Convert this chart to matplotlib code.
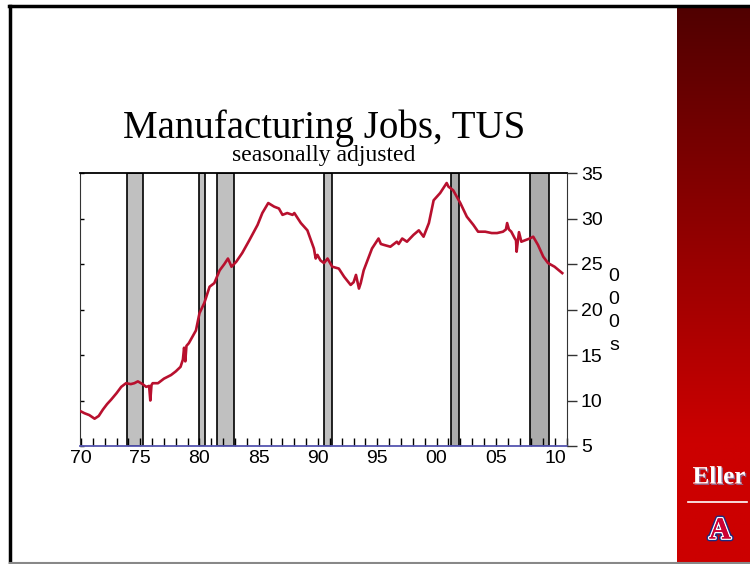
import matplotlib
matplotlib.use("Agg")
import matplotlib.pyplot as plt
import numpy as np
import matplotlib.patheffects as pe
from matplotlib.lines import Line2D

# ---------------- data ----------------
years = [1970.0, 1970.3, 1970.7, 1971.15, 1971.5, 1971.85, 1972.2, 1972.55, 1973.0,
         1973.4, 1973.8, 1974.2, 1974.5, 1974.8, 1975.2, 1975.5, 1975.75, 1975.85,
         1975.95, 1976.05, 1976.5, 1977.0, 1977.6, 1978.0, 1978.4, 1978.6, 1978.7,
         1978.8, 1978.9, 1979.1, 1979.4, 1979.7, 1980.0, 1980.4, 1980.85, 1981.25,
         1981.7, 1982.1, 1982.4, 1982.7, 1983.1, 1983.6, 1984.2, 1984.9, 1985.3,
         1985.8, 1986.3, 1986.7, 1987.0, 1987.4, 1987.85, 1988.0, 1988.55, 1989.1,
         1989.65, 1989.8, 1989.95, 1990.2, 1990.5, 1990.8, 1991.2, 1991.75, 1992.2,
         1992.75, 1993.0, 1993.2, 1993.45, 1993.6, 1993.85, 1994.55, 1995.1, 1995.3,
         1995.55, 1996.1, 1996.65, 1996.8, 1997.1, 1997.5, 1998.05, 1998.5, 1998.9,
         1999.35, 1999.75, 2000.3, 2000.85, 2001.0, 2001.4, 2002.0, 2002.55, 2003.1,
         2003.5, 2004.1, 2004.65, 2005.1, 2005.6, 2005.85, 2005.95, 2006.1, 2006.3,
         2006.6, 2006.7, 2006.75, 2006.85, 2006.95, 2007.15, 2007.85, 2008.15,
         2008.55, 2009.0, 2009.4, 2009.95, 2010.6]
jobs = [8.8, 8.6, 8.4, 8.0, 8.3, 9.0, 9.6, 10.1, 10.8,
        11.5, 11.9, 11.8, 11.9, 12.1, 11.8, 11.5, 11.6, 10.0,
        11.7, 11.9, 11.9, 12.4, 12.8, 13.2, 13.7, 14.5, 15.8,
        14.3, 16.0, 16.3, 17.0, 17.7, 19.6, 20.7, 22.5, 22.9,
        24.3, 25.0, 25.6, 24.7, 25.25, 26.2, 27.6, 29.3, 30.6,
        31.7, 31.3, 31.1, 30.4, 30.6, 30.4, 30.6, 29.5, 28.7,
        26.7, 25.6, 26.0, 25.4, 25.1, 25.6, 24.7, 24.5, 23.6,
        22.7, 23.0, 23.8, 22.3, 22.9, 24.3, 26.7, 27.8, 27.2,
        27.1, 26.9, 27.45, 27.2, 27.8, 27.45, 28.2, 28.7, 28.0,
        29.5, 32.0, 32.8, 33.9, 33.5, 33.1, 31.7, 30.2, 29.3,
        28.55, 28.55, 28.4, 28.4, 28.55, 28.8, 29.5, 28.8, 28.55,
        27.8, 27.6, 26.35, 27.5, 28.5, 27.45, 27.8, 28.0,
        27.1, 25.8, 25.1, 24.7, 24.0]

rec_start = [1973.9, 1980.0, 1981.5, 1990.5, 2001.2, 2007.9]
rec_end = [1975.2, 1980.5, 1982.9, 1991.2, 2001.9, 2009.5]
rec_fill = ["#c0c0c0", "#c0c0c0", "#c0c0c0", "#c0c0c0", "#ababab", "#ababab"]

xtick_major = [1970, 1975, 1980, 1985, 1990, 1995, 2000, 2005, 2010]
xtick_labels = ["70", "75", "80", "85", "90", "95", "00", "05", "10"]
xtick_minor = list(range(1970, 2012))
yticks = [5, 10, 15, 20, 25, 30, 35]

title = "Manufacturing Jobs, TUS"
subtitle = "seasonally adjusted"
units_label = "0\n0\n0\ns"

# ---------------- figure ----------------
W, H = 750, 564
fig = plt.figure(figsize=(7.5, 5.64), dpi=100)
fig.patch.set_facecolor("white")

def fx(x):
    return x / W

def fy(y):
    return 1 - y / H

# red sidebar with gradient
sb = fig.add_axes([fx(677), 0, fx(750) - fx(677), fy(6)])
grad = np.ones((200, 2, 3))
t = np.clip(np.linspace(0, 1, 200) / 0.78, 0, 1)[:, None]
top = np.array([0x50, 0x00, 0x00]) / 255
bot = np.array([0xcc, 0x00, 0x00]) / 255
grad[:] = (top + (bot - top) * t)[:, None, :]
sb.imshow(grad, aspect="auto", extent=[0, 1, 1, 0])
sb.set_xlim(0, 1)
sb.set_ylim(1, 0)
sb.axis("off")

# outer border lines
fig.add_artist(Line2D([fx(10), fx(10)], [fy(6), 0], color="black", lw=2.5,
                      transform=fig.transFigure))
fig.add_artist(Line2D([fx(9), 1], [fy(6), fy(6)], color="black", lw=2.5,
                      transform=fig.transFigure))
fig.add_artist(Line2D([fx(10), 1], [fy(563), fy(563)], color="#888888", lw=1.5,
                      transform=fig.transFigure))

# Eller logo
fig.text(fx(719), fy(477), "Eller", color="white", fontsize=18, fontweight="bold",
         family="Liberation Serif", ha="center", va="center",
         path_effects=[pe.withSimplePatchShadow(offset=(1, -1), shadow_rgbFace="#8080b0", alpha=0.8)])
fig.add_artist(Line2D([fx(688), fx(747)], [fy(502), fy(502)], color="white", lw=1.2,
                      transform=fig.transFigure))
fig.text(fx(720), fy(531), "A", color="#cc0033", fontsize=22, fontweight="bold",
         family="Liberation Serif", ha="center", va="center",
         path_effects=[pe.withStroke(linewidth=4, foreground="#1a2a80"),
                       pe.withStroke(linewidth=2, foreground="white"),
                       pe.Normal()])

# main axes
L, R, T, B = 80, 567, 173, 446
ax = fig.add_axes([fx(L), fy(B), fx(R) - fx(L), fy(T) - fy(B)])
ax.set_xlim(1969.92, 2011.0)
ax.set_ylim(5, 35)

for s, e, c in zip(rec_start, rec_end, rec_fill):
    ax.axvspan(s, e, facecolor=c, edgecolor="black", lw=1.2, zorder=1)

ax.plot(years, jobs, color="#b8102e", lw=1.9, zorder=3, solid_joinstyle="round")

ax.set_xticks(xtick_major)
ax.set_xticklabels(xtick_labels)
ax.set_xticks(xtick_minor, minor=True)
ax.tick_params(axis="x", which="both", direction="in", length=6, width=1,
               color="black", labelsize=14, pad=3, top=False)
ax.set_yticks(yticks)
ax.tick_params(axis="y", which="both", direction="in", length=3, width=1,
               color="black", left=True, right=False, labelleft=False)
for lab in ax.get_xticklabels():
    lab.set_family("Liberation Sans")

ax.spines["bottom"].set_color("#5555b0")
ax.spines["bottom"].set_linewidth(1.3)
ax.spines["bottom"].set_zorder(4)
ax.spines["left"].set_color("#333333")
ax.spines["top"].set_color("black")
ax.spines["top"].set_linewidth(1.3)
ax.spines["right"].set_color("#333333")

ax2 = ax.twinx()
ax2.set_ylim(5, 35)
ax2.set_yticks(yticks)
ax2.tick_params(axis="y", direction="out", length=7, width=1, color="#333333",
                labelsize=14, pad=3)
for lab in ax2.get_yticklabels():
    lab.set_family("Liberation Sans")
for sp in ax2.spines.values():
    sp.set_visible(False)

# titles
fig.text(fx(324), fy(138), title, family="Liberation Serif", fontsize=28,
         ha="center", va="baseline", color="black")
fig.text(fx(324), fy(161), subtitle, family="Liberation Serif", fontsize=17,
         ha="center", va="baseline", color="black")

# units label
fig.text(fx(614), fy(311), units_label, family="Liberation Sans", fontsize=14,
         ha="center", va="center", linespacing=1.45, color="black")

fig.savefig("out.png", dpi=100)
